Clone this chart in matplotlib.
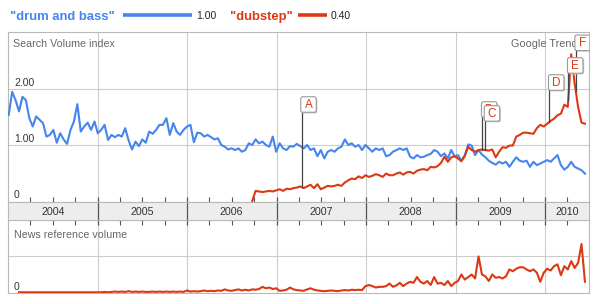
import numpy as np
import pandas as pd
import matplotlib
matplotlib.use('Agg')
import matplotlib.pyplot as plt
from matplotlib import transforms
from matplotlib.patches import FancyBboxPatch
from matplotlib.lines import Line2D

plt.rcParams['font.family'] = ['Liberation Sans', 'DejaVu Sans']

# ---------------- data ----------------
dates = pd.date_range('2004-01-04', periods=169, freq='14D')
years_dec = np.asarray(dates.year + (dates.dayofyear - 1) / 365.25, dtype=float)

nan = np.nan
drum_and_bass = [
    1.54, 1.95, 1.80, 1.60, 1.86, 1.80, 1.48, 1.33, 1.51, 1.45,
    1.39, 1.15, 1.18, 1.27, 1.04, 1.21, 1.10, 1.02, 1.27, 1.42,
    1.73, 1.24, 1.33, 1.40, 1.27, 1.42, 1.21, 1.27, 1.36, 1.09,
    1.18, 1.14, 1.18, 1.15, 1.30, 1.08, 0.92, 1.06, 0.98, 1.10,
    1.04, 1.24, 1.20, 1.27, 1.36, 1.36, 1.48, 1.18, 1.39, 1.24,
    1.18, 1.27, 1.33, 1.36, 1.05, 1.22, 1.21, 1.15, 1.18, 1.14,
    1.10, 1.12, 1.00, 0.97, 0.92, 0.94, 0.91, 0.94, 0.88, 0.91,
    1.03, 1.00, 1.10, 1.03, 1.06, 1.00, 0.97, 1.15, 0.88, 1.03,
    0.94, 0.91, 0.98, 0.97, 1.02, 0.98, 0.94, 1.00, 0.91, 0.94,
    0.80, 0.91, 0.76, 0.88, 0.91, 0.88, 0.94, 0.97, 1.10, 1.00,
    1.03, 0.97, 1.00, 0.91, 1.00, 0.94, 0.88, 0.94, 0.91, 0.94,
    0.80, 0.82, 0.88, 0.91, 0.94, 0.91, 0.94, 0.79, 0.76, 0.82,
    0.78, 0.79, 0.82, 0.84, 0.91, 0.88, 0.80, 0.85, 0.76, 0.91,
    0.79, 0.82, 0.72, 0.82, 1.01, 0.99, 0.82, 0.91, 0.83, 0.78,
    0.72, 0.68, 0.65, 0.70, 0.67, 0.70, 0.61, 0.70, 0.78, 0.72,
    0.70, 0.72, 0.61, 0.70, 0.64, 0.67, 0.70, 0.73, 0.70, 0.76,
    0.82, 0.64, 0.56, 0.61, 0.70, 0.61, 0.58, 0.55, 0.49,
]
dubstep = [nan] * 71 + [
    0.00, 0.18, 0.17, 0.16, 0.17, 0.18, 0.17, 0.19, 0.21, 0.18,
    0.22, 0.21, 0.23, 0.24, 0.26, 0.23, 0.26, 0.29, 0.23, 0.30,
    0.21, 0.24, 0.27, 0.26, 0.27, 0.29, 0.27, 0.33, 0.37, 0.40,
    0.39, 0.44, 0.41, 0.46, 0.43, 0.45, 0.48, 0.46, 0.43, 0.49,
    0.46, 0.46, 0.49, 0.51, 0.47, 0.51, 0.52, 0.49, 0.54, 0.56,
    0.57, 0.55, 0.61, 0.60, 0.62, 0.68, 0.79, 0.70, 0.78, 0.80,
    0.76, 0.71, 0.80, 0.97, 0.91, 0.88, 0.91, 0.92, 0.91, 0.90,
    0.92, 0.78, 0.88, 0.96, 0.95, 0.99, 0.99, 1.15, 1.18, 1.22,
    1.22, 1.21, 1.20, 1.30, 1.36, 1.33, 1.38, 1.43, 1.47, 1.53,
    1.56, 1.72, 1.68, 2.62, 2.10, 1.68, 1.40, 1.38,
]
news_dubstep = [nan] * 3 + [
    0.01, 0.01, 0.01, 0.01, 0.01, 0.01, 0.01, 0.01, 0.01, 0.01,
    0.01, 0.01, 0.01, 0.01, 0.01, 0.01, 0.01, 0.01, 0.01, 0.01,
    0.01, 0.01, 0.01, 0.01, 0.01, 0.02, 0.01,
    0.02, 0.03, 0.02, 0.03, 0.02, 0.04, 0.02, 0.03, 0.02, 0.03, 0.02,
    0.02, 0.03, 0.02, 0.03, 0.02, 0.03, 0.02, 0.03, 0.02, 0.03,
    0.02, 0.06, 0.03, 0.04, 0.03, 0.04, 0.06, 0.04, 0.05, 0.04,
    0.06, 0.05, 0.09, 0.06, 0.05, 0.07, 0.09, 0.06, 0.08, 0.06,
    0.09, 0.08, 0.10, 0.16, 0.12, 0.14, 0.10, 0.12, 0.05, 0.06,
    0.08, 0.14, 0.09, 0.07, 0.06, 0.05, 0.09, 0.12, 0.08, 0.06,
    0.05, 0.04, 0.05, 0.06, 0.05, 0.04, 0.06, 0.07, 0.06, 0.08,
    0.07, 0.08, 0.07, 0.18,
    0.21, 0.18, 0.14, 0.16, 0.16, 0.18, 0.25, 0.16, 0.20, 0.27,
    0.18, 0.25, 0.30, 0.27, 0.43, 0.30, 0.25, 0.32, 0.21, 0.43,
    0.25, 0.27, 0.21, 0.32, 0.18, 0.27, 0.32, 0.50, 0.36, 0.43,
    0.50, 0.39, 1.00, 0.50, 0.45, 0.32, 0.50, 0.41, 0.43, 0.39,
    0.45, 0.64, 0.59, 0.66, 0.70, 0.70, 0.64, 0.59, 0.64, 0.55,
    0.30, 0.55, 0.66, 0.61, 0.73, 0.78, 0.48, 0.73, 0.64, 0.87,
    0.68, 0.82, 1.34, 0.30,
]

series_names = ['"drum and bass"', '"dubstep"']
series_avgs = ['1.00', '0.40']
year_labels = ['2004', '2005', '2006', '2007', '2008', '2009', '2010']
flag_letters = ['A', 'B', 'C', 'D', 'E', 'F']
flag_dates = [2007.28, 2009.299, 2009.330, 2010.048, 2010.26, 2010.343]

# ---------------- styling / layout ----------------
BLUE = '#4684ee'
RED = '#dc3912'
GRID = '#cccccc'
BORDER = '#b8b8b8'
TXT = '#333333'
LBL = '#666666'
flag_box_y = [1.723, 1.634, 1.564, 2.116, 2.42, 2.825]  # box centres (layout)

W, H = 597, 304
fig = plt.figure(figsize=(W / 100, H / 100), dpi=100)
fig.patch.set_facecolor('white')


def fa(l, t, r, b):
    return [l / W, 1 - b / H, (r - l) / W, (b - t) / H]


ax = fig.add_axes(fa(8, 32, 589, 202))
band = fig.add_axes(fa(8, 202, 589, 220))
axn = fig.add_axes(fa(8, 220, 589, 293))
band.set_zorder(5)

x0, x1 = 2004.0, 2004 + 581 / 89.5
year_bounds = [2005, 2006, 2007, 2008, 2009, 2010]

for a in (ax, band, axn):
    a.set_xlim(x0, x1)
    a.set_xticks([])
    a.set_yticks([])
    for s in a.spines.values():
        s.set_color(BORDER)
        s.set_linewidth(0.8)

ax.set_ylim(-1 / 56, 169 / 56)
axn.set_ylim(-0.01, 73.3 / 36.6)
band.set_ylim(0, 1)
band.set_facecolor('#ededed')

# grids
for a in (ax, axn):
    for yb in year_bounds:
        a.axvline(yb, color=GRID, lw=0.8, zorder=0)
for yv in (1.0, 2.0):
    ax.axhline(yv, color=GRID, lw=0.8, zorder=0)
axn.axhline(1.0, color=GRID, lw=0.8, zorder=0)

# series
ax.plot(years_dec, drum_and_bass, color=BLUE, lw=1.5, zorder=3, solid_joinstyle='round')
ax.plot(years_dec, dubstep, color=RED, lw=1.5, zorder=4, solid_joinstyle='round')
axn.plot(years_dec, news_dubstep, color=RED, lw=1.5, zorder=3, solid_joinstyle='round')

# value labels inside axes
fs_small = 7.5
for yv, lab in [(2.0, '2.00'), (1.0, '1.00'), (0.0, '0')]:
    ax.annotate(lab, xy=(0, yv), xycoords=('axes fraction', 'data'),
                xytext=(6, 3), textcoords='offset pixels', va='baseline',
                ha='left', fontsize=fs_small, color=TXT)
axn.annotate('0', xy=(0, 0), xycoords=('axes fraction', 'data'),
             xytext=(6, 3), textcoords='offset pixels', va='baseline',
             ha='left', fontsize=fs_small, color=TXT)
ax.annotate('Search Volume index', xy=(0, 1), xycoords='axes fraction',
            xytext=(5, -15), textcoords='offset pixels', va='baseline',
            ha='left', fontsize=7.7, color=LBL)
ax.annotate('Google Trends', xy=(1, 1), xycoords='axes fraction',
            xytext=(-6, -15), textcoords='offset pixels', va='baseline',
            ha='right', fontsize=7.8, color=LBL, zorder=2)
axn.annotate('News reference volume', xy=(0, 1), xycoords='axes fraction',
             xytext=(6, -18), textcoords='offset pixels', va='baseline',
             ha='left', fontsize=7.7, color=LBL)

# band: year labels and ticks
centers = [y + 0.5 for y in range(2004, 2010)] + [(2010 + x1) / 2]
for c, lab in zip(centers, year_labels):
    band.text(c, 0.45, lab, ha='center', va='center', fontsize=7.7, color=TXT)
xt = band.get_xaxis_transform()
minor = [y + q for y in range(2004, 2011) for q in (0.25, 0.5, 0.75) if y + q < x1]
band.vlines(minor, 1.0, 1.29, transform=xt, color='#555555', lw=0.8, clip_on=False)
band.vlines(minor, -0.28, 0.0, transform=xt, color='#555555', lw=0.8, clip_on=False)
band.vlines(year_bounds, -0.28, 1.26, transform=xt, color='#555555', lw=0.9, clip_on=False)

# flags
valid = ~np.isnan(np.array(dubstep, dtype=float))
rx = years_dec[valid]
ry = np.array(dubstep, dtype=float)[valid]
bw, bh = 15.5, 15.5
left_off = -0.8
for k, (fd, by, letter) in enumerate(zip(flag_dates, flag_box_y, flag_letters)):
    z = 10 + 3 * k
    yv = float(np.interp(fd, rx, ry))
    ax.plot([fd, fd], [yv, by], color='#444444', lw=0.9, zorder=6)
    base = fig.dpi_scale_trans + transforms.ScaledTranslation(fd, by, ax.transData)
    shadow = FancyBboxPatch(((left_off + 1.2) / 100, (-bh / 2 - 1.2) / 100), bw / 100, bh / 100,
                            boxstyle='round,pad=0,rounding_size=0.02',
                            transform=base, facecolor='#cccccc', edgecolor='none',
                            zorder=z)
    box = FancyBboxPatch((left_off / 100, -bh / 2 / 100), bw / 100, bh / 100,
                         boxstyle='round,pad=0,rounding_size=0.02',
                         transform=base, facecolor='white', edgecolor='#999999',
                         lw=0.8, zorder=z + 1)
    ax.add_patch(shadow)
    ax.add_patch(box)
    ax.annotate(letter, xy=(fd, by), xycoords='data',
                xytext=(left_off + bw / 2, -0.5), textcoords='offset pixels',
                ha='center', va='center', fontsize=8.5, color=RED, zorder=z + 2)

# legend at top
fig.text(10 / W, 1 - 20 / H, series_names[0], color=BLUE, fontsize=9.4,
         fontweight='bold', va='baseline', ha='left')
fig.add_artist(Line2D([122.5 / W, 192 / W], [1 - 15 / H] * 2, color=BLUE,
                      lw=2.6, solid_capstyle='butt'))
fig.text(196 / W, 1 - 19 / H, series_avgs[0], color='#222222', fontsize=7.5,
         va='baseline', ha='left')
fig.text(230 / W, 1 - 20 / H, series_names[1], color=RED, fontsize=9.4,
         fontweight='bold', va='baseline', ha='left')
fig.add_artist(Line2D([298 / W, 327 / W], [1 - 15 / H] * 2, color=RED,
                      lw=2.6, solid_capstyle='butt'))
fig.text(331 / W, 1 - 19 / H, series_avgs[1], color='#222222', fontsize=7.5,
         va='baseline', ha='left')

fig.savefig('out.png', dpi=100, facecolor='white')
